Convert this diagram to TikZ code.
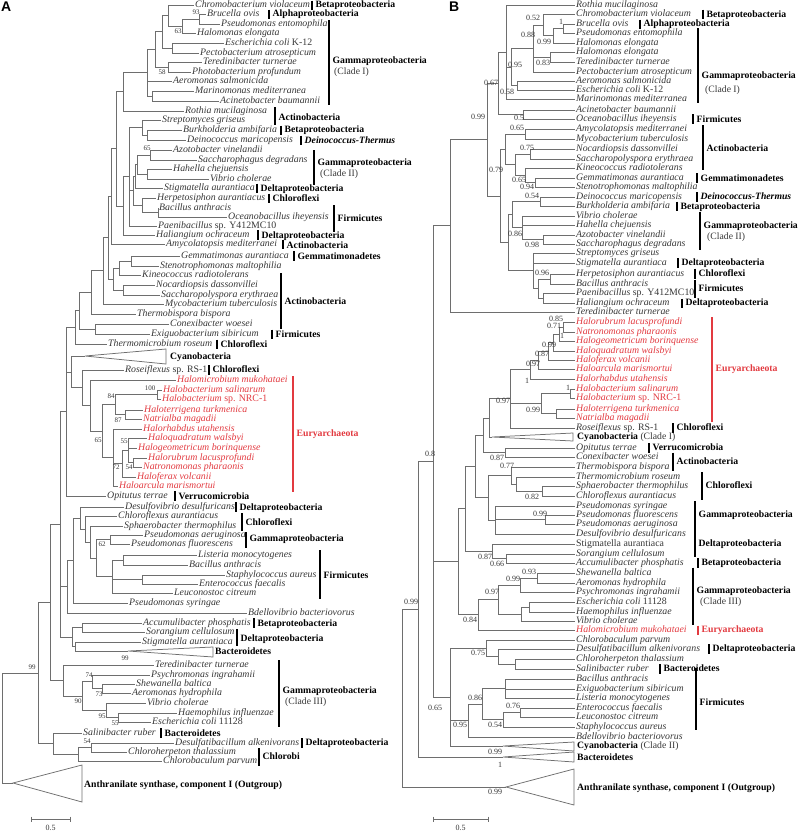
\documentclass[tikz,border=0pt]{standalone}
\usepackage{fontspec}
\setmainfont{Liberation Serif}
\newfontfamily\panelfont{Liberation Sans}
\usetikzlibrary{calc}
\definecolor{linecol}{RGB}{110,110,110}
\definecolor{txtcol}{RGB}{55,55,55}
\definecolor{eur}{RGB}{226,58,64}
\newcounter{auxc}
\tikzset{
 br/.style={draw=linecol, line width=0.75pt},
 leaf/.style={anchor=west, inner xsep=1pt, inner ysep=0pt, text height=6.7pt, text depth=2pt, font=\fontsize{9.85}{11}\selectfont\itshape, text=txtcol},
 bsa/.style={inner sep=0pt, font=\fontsize{7}{8}\selectfont, text=txtcol},
 bsb/.style={inner sep=0pt, font=\fontsize{8}{9}\selectfont, text=txtcol},
 cl/.style={anchor=west, inner sep=0pt, text height=6.7pt, text depth=2pt, font=\fontsize{9.7}{11}\selectfont\bfseries},
 sub/.style={anchor=west, inner sep=0pt, text height=6.7pt, text depth=2pt, font=\fontsize{9.7}{11}\selectfont, text=txtcol},
 barline/.style={line width=1.5pt},
 panel/.style={anchor=north west, inner sep=0pt, font=\panelfont\bfseries\fontsize{14}{14}\selectfont},
}
\newcommand\nd[4]{\path let \p1=(#3), \p2=(#4) in ({#2*1pt},{0.5*(\y1+\y2)}) coordinate (#1);}
\newcommand\kids[2]{\foreach \ch in {#2}{\draw[br] (#1) |- (\ch);}}
\newcommand\lf[4]{\node[leaf] (#1) at (#2,#3) {#4};}
\newcommand\lfr[4]{\node[leaf,text=eur] (#1) at (#2,#3) {#4};}
\newcommand\bsA[3]{\stepcounter{auxc}\node[bsa] (bs\arabic{auxc}) at (#1,#2) {#3};}
\newcommand\bsB[3]{\stepcounter{auxc}\node[bsb] (bs\arabic{auxc}) at (#1,#2) {#3};}
\newcommand\clade[6][black]{\stepcounter{auxc}\draw[barline,draw=#1] (#2,#3) -- (#2,#4);\node[cl,text=#1] (cl\arabic{auxc}) at ({#2+3.5},#5) {#6};}
\newcommand\tri[6]{\coordinate (#1) at (#2,#3); \draw[br] (#1) -- (#4,#5) -- (#4,#6) -- cycle;}

\begin{document}
\begin{tikzpicture}[x=1pt,y=-1pt]
\useasboundingbox (0,0) rectangle (800,831);

% ================= PANEL A =================
\node[panel] (lblA) at (1,2) {A};
\lf{aChr}{194}{5}{Chromobacterium violaceum}
\lf{aBru}{206}{14}{Brucella ovis}
\lf{aPen}{220}{24}{Pseudomonas entomophila}
\lf{aHel}{196}{33}{Halomonas elongata}
\lf{aEck}{224}{43}{Escherichia coli \textup{K-12}}
\lf{aPec}{199}{53}{Pectobacterium atrosepticum}
\lf{aTer}{202}{62}{Teredinibacter turnerae}
\lf{aPho}{191}{72}{Photobacterium profundum}
\lf{aAer}{172}{81}{Aeromonas salmonicida}
\lf{aMar}{194}{91}{Marinomonas mediterranea}
\lf{aAci}{219}{101}{Acinetobacter baumannii}
\lf{aRot}{184}{111}{Rothia mucilaginosa}
\lf{aStr}{161}{120}{Streptomyces griseus}
\lf{aBur}{182}{130}{Burkholderia ambifaria}
\lf{aDei}{186}{140}{Deinococcus maricopensis}
\lf{aAzo}{172}{150}{Azotobacter vinelandii}
\lf{aSac}{197}{160}{Saccharophagus degradans}
\lf{aHah}{172}{169}{Hahella chejuensis}
\lf{aVib}{209}{179}{Vibrio cholerae}
\lf{aSti}{163}{188}{Stigmatella aurantiaca}
\lf{aHer}{156}{198}{Herpetosiphon aurantiacus}
\lf{aBac}{158}{208}{Bacillus anthracis}
\lf{aOce}{227}{217}{Oceanobacillus iheyensis}
\lf{aPae}{157}{226}{Paenibacillus \textup{sp. Y412MC10}}
\lf{aHal}{155}{235}{Haliangium ochraceum}
\lf{aAmy}{165}{244}{Amycolatopsis mediterranei}
\lf{aGem}{180}{256}{Gemmatimonas aurantiaca}
\lf{aSte}{159}{266}{Stenotrophomonas maltophilia}
\lf{aKin}{141}{275}{Kineococcus radiotolerans}
\lf{aNoc}{155}{285}{Nocardiopsis dassonvillei}
\lf{aSpe}{160}{295}{Saccharopolyspora erythraea}
\lf{aMyc}{164}{304}{Mycobacterium tuberculosis}
\lf{aThb}{136}{314}{Thermobispora bispora}
\lf{aCon}{169}{324}{Conexibacter woesei}
\lf{aExi}{150}{334}{Exiguobacterium sibiricum}
\lf{aThm}{107}{344}{Thermomicrobium roseum}
\lf{aRos}{124}{370}{Roseiflexus \textup{sp. RS-1}}
\lfr{aHmi}{176}{380}{Halomicrobium mukohataei}
\lfr{aHsa}{162}{390}{Halobacterium salinarum}
\lfr{aHnr}{161}{399}{Halobacterium \textup{sp. NRC-1}}
\lfr{aHte}{143}{410}{Haloterrigena turkmenica}
\lfr{aNat}{142}{419}{Natrialba magadii}
\lfr{aHrh}{142}{429}{Halorhabdus utahensis}
\lfr{aHqu}{147}{438}{Haloquadratum walsbyi}
\lfr{aHge}{137}{448}{Halogeometricum borinquense}
\lfr{aHru}{147}{458}{Halorubrum lacusprofundi}
\lfr{aNph}{142}{467}{Natronomonas pharaonis}
\lfr{aHfe}{136}{477}{Haloferax volcanii}
\lfr{aHar}{118}{486}{Haloarcula marismortui}
\lf{aOpi}{106}{496}{Opitutus terrae}
\lf{aDes}{124}{507}{Desulfovibrio desulfuricans}
\lf{aChl}{117}{516}{Chloroflexus aurantiacus}
\lf{aSph}{123}{526}{Sphaerobacter thermophilus}
\lf{aPar}{143}{535}{Pseudomonas aeruginosa}
\lf{aPfl}{130}{544}{Pseudomonas fluorescens}
\lf{aLis}{197}{555}{Listeria monocytogenes}
\lf{aBan}{188}{565}{Bacillus anthracis}
\lf{aSta}{225}{575}{Staphylococcus aureus}
\lf{aEnt}{198}{584}{Enterococcus faecalis}
\lf{aLeu}{173}{593}{Leuconostoc citreum}
\lf{aPsy}{128}{603}{Pseudomonas syringae}
\lf{aBde}{247}{613}{Bdellovibrio bacteriovorus}
\lf{aAcc}{142}{623}{Accumulibacter phosphatis}
\lf{aSor}{145}{632}{Sorangium cellulosum}
\lf{aSt2}{141}{642}{Stigmatella aurantiaca}
\lf{aTe2}{154}{665}{Teredinibacter turnerae}
\lf{aPsi}{150}{675}{Psychromonas ingrahamii}
\lf{aShe}{135}{684}{Shewanella baltica}
\lf{aAeh}{131}{693}{Aeromonas hydrophila}
\lf{aVi2}{146}{703}{Vibrio cholerae}
\lf{aHae}{177}{713}{Haemophilus influenzae}
\lf{aEco}{151}{722}{Escherichia coli \textup{11128}}
\lf{aSal}{82}{733}{Salinibacter ruber}
\lf{aDsf}{174}{743}{Desulfatibacillum alkenivorans}
\lf{aCht}{127}{752}{Chloroherpeton thalassium}
\lf{aCbp}{162}{761}{Chlorobaculum parvum}

\tri{cyA}{85}{356}{166}{349}{364}
\tri{bacA}{128}{651}{213}{647}{657}
\tri{outA}{13}{783}{82}{765}{802}

\nd{Abp}{199}{aBru}{aPen}\kids{Abp}{aBru,aPen}
\nd{Abph}{182}{Abp}{aHel}\kids{Abph}{Abp,aHel}
\nd{Ac}{168}{aChr}{Abph}\kids{Ac}{aChr,Abph}
\nd{Aep}{172}{aEck}{aPec}\kids{Aep}{aEck,aPec}
\nd{Ag1}{162}{Ac}{Aep}\kids{Ag1}{Ac,Aep}
\nd{Atp}{168}{aTer}{aPho}\kids{Atp}{aTer,aPho}
\nd{Ag2}{155}{Ag1}{Atp}\kids{Ag2}{Ag1,Atp}
\nd{Ama}{152}{aMar}{aAci}\kids{Ama}{aMar,aAci}
\nd{Ag3}{147}{Ag2}{Ama}\kids{Ag3}{Ag2,aAer,Ama}
\nd{Ar}{123}{Ag3}{aRot}\kids{Ar}{Ag3,aRot}
\nd{Abd}{147}{aBur}{aDei}\kids{Abd}{aBur,aDei}
\nd{Asbd}{142}{aStr}{Abd}\kids{Asbd}{aStr,Abd}
\nd{Aas}{150}{aAzo}{aSac}\kids{Aas}{aAzo,aSac}
\nd{Ahv}{147}{aHah}{aVib}\kids{Ahv}{aHah,aVib}
\nd{Ag2c}{137}{Aas}{Ahv}\kids{Ag2c}{Aas,Ahv}
\nd{Ast}{135}{Ag2c}{aSti}\kids{Ast}{Ag2c,aSti}
\nd{Abo}{158}{aBac}{aOce}\kids{Abo}{aBac,aOce}
\nd{Ahb}{142}{aHer}{Abo}\kids{Ahb}{aHer,Abo}
\nd{Ax1}{133}{Ast}{Ahb}\kids{Ax1}{Ast,Ahb}
\nd{Ax2}{129}{Asbd}{aPae}\kids{Ax2}{Asbd,Ax1,aPae}
\nd{Ax4}{123}{Ax2}{aHal}\kids{Ax4}{Ax2,aHal}
\nd{A116}{116}{Ar}{Ax4}\kids{A116}{Ar,Ax4}
\nd{A111}{111}{A116}{aAmy}\kids{A111}{A116,aAmy}
\nd{Ags}{131}{aGem}{aSte}\kids{Ags}{aGem,aSte}
\nd{Agk}{119}{Ags}{aKin}\kids{Agk}{Ags,aKin}
\nd{Ans}{123}{aNoc}{aSpe}\kids{Ans}{aNoc,aSpe}
\nd{Akn}{113}{Agk}{Ans}\kids{Akn}{Agk,Ans}
\nd{A108}{108}{A111}{Akn}\kids{A108}{A111,Akn}
\nd{Am}{103}{A108}{aMyc}\kids{Am}{A108,aMyc}
\nd{Atb}{91}{Am}{aThb}\kids{Atb}{Am,aThb}
\nd{Ace}{95}{aCon}{aExi}\kids{Ace}{aCon,aExi}
\nd{A79}{79}{Atb}{Ace}\kids{A79}{Atb,Ace}
\nd{A75}{75}{A79}{aThm}\kids{A75}{A79,aThm}
\nd{Ehh}{157}{aHsa}{aHnr}\kids{Ehh}{aHsa,aHnr}
\nd{Etn}{125}{aHte}{aNat}\kids{Etn}{aHte,aNat}
\nd{E84}{115}{Ehh}{Etn}\kids{E84}{Ehh,Etn}
\nd{Ern}{133}{aHru}{aNph}\kids{Ern}{aHru,aNph}
\nd{Eq}{128}{aHqu}{Ern}\kids{Eq}{aHqu,aHge,Ern}
\nd{Ef}{122}{Eq}{aHfe}\kids{Ef}{Eq,aHfe}
\nd{Ea}{113}{aHrh}{aHar}\kids{Ea}{aHrh,Ef,aHar}
\nd{E65}{102}{E84}{Ea}\kids{E65}{E84,Ea}
\nd{E0}{90}{aHmi}{E65}\kids{E0}{aHmi,E65}
\nd{AR}{82}{aRos}{E0}\kids{AR}{aRos,E0}
\nd{A71}{71}{cyA}{AR}\kids{A71}{cyA,AR}
\nd{Ao}{66}{A75}{aOpi}\kids{Ao}{A75,A71,aOpi}
\nd{PaPf}{110}{aPar}{aPfl}\kids{PaPf}{aPar,aPfl}
\nd{LB}{123}{aLis}{aBan}\kids{LB}{aLis,aBan}
\nd{SE}{142}{aSta}{aEnt}\kids{SE}{aSta,aEnt}
\nd{Ff}{112}{LB}{aLeu}\kids{Ff}{LB,SE,aLeu}
\nd{PF}{96}{PaPf}{Ff}\kids{PF}{PaPf,Ff}
\nd{SP}{90}{aSph}{PF}\kids{SP}{aSph,PF}
\nd{CSP}{85}{aChl}{SP}\kids{CSP}{aChl,SP}
\nd{Dd}{80}{aDes}{CSP}\kids{Dd}{aDes,CSP}
\nd{PS}{73}{Dd}{aPsy}\kids{PS}{Dd,aPsy}
\nd{BD}{67}{PS}{aBde}\kids{BD}{PS,aBde}
\nd{AccSor}{82}{aAcc}{aSor}\kids{AccSor}{aAcc,aSor}
\nd{StBa}{75}{aSt2}{bacA}\kids{StBa}{aSt2,bacA}
\nd{ASSB}{72}{AccSor}{StBa}\kids{ASSB}{AccSor,StBa}
\nd{N60}{60}{Ao}{ASSB}\kids{N60}{Ao,BD,ASSB}
\nd{SA}{102}{aShe}{aAeh}\kids{SA}{aShe,aAeh}
\nd{PSA}{92}{aPsi}{SA}\kids{PSA}{aPsi,SA}
\nd{HE}{118}{aHae}{aEco}\kids{HE}{aHae,aEco}
\nd{VHE}{106}{aVi2}{HE}\kids{VHE}{aVi2,HE}
\nd{G3b}{82}{PSA}{VHE}\kids{G3b}{PSA,VHE}
\nd{G3}{63}{aTe2}{G3b}\kids{G3}{aTe2,G3b}
\nd{N50}{50}{N60}{G3}\kids{N50}{N60,G3}
\nd{DCh}{91}{aDsf}{aCht}\kids{DCh}{aDsf,aCht}
\nd{DCC}{78}{DCh}{aCbp}\kids{DCC}{DCh,aCbp}
\nd{SalChl}{53}{aSal}{DCC}\kids{SalChl}{aSal,DCC}
\nd{N99}{38}{N50}{SalChl}\kids{N99}{N50,SalChl}
\nd{rootA}{2}{N99}{outA}\kids{rootA}{N99,outA}

\bsA{196}{12}{93}
\bsA{178}{31}{63}
\bsA{162}{72}{58}
\bsA{147}{148}{65}
\bsA{150}{388}{100}
\bsA{111}{396}{84}
\bsA{118}{420}{87}
\bsA{98}{440}{65}
\bsA{124}{441}{55}
\bsA{116}{467}{72}
\bsA{129}{467}{54}
\bsA{102}{544}{62}
\bsA{125}{658}{99}
\bsA{32}{667}{99}
\bsA{89}{675}{74}
\bsA{99}{694}{73}
\bsA{78}{701}{90}
\bsA{102}{716}{95}
\bsA{115}{723}{55}
\bsA{87}{741}{54}

\clade{312}{0.5}{9.5}{5}{Betaproteobacteria}
\clade{269}{9.5}{19}{14}{Alphaproteobacteria}
\clade{329}{20}{105}{61}{Gammaproteobacteria}
\node[sub] (subA1) at (334,72) {(Clade I)};
\clade{275}{107}{125}{118}{Actinobacteria}
\clade{281}{125.5}{135}{130}{Betaproteobacteria}
\clade{301}{135.5}{145}{141}{\textit{Deinococcus-Thermus}}
\clade{314}{150}{185}{163}{Gammaproteobacteria}
\node[sub] (subA2) at (320,174) {(Clade II)};
\clade{257}{183.5}{193}{189}{Deltaproteobacteria}
\clade{269}{193.5}{203}{199}{Chloroflexi}
\clade{334}{205}{232}{219}{Firmicutes}
\clade{258}{230}{240}{236}{Deltaproteobacteria}
\clade{283}{239.5}{249}{246}{Actinobacteria}
\clade{294}{251}{261}{257}{Gemmatimonadetes}
\clade{281}{273}{329}{302}{Actinobacteria}
\clade{272}{329.5}{339}{335}{Firmicutes}
\clade{217}{339.5}{349}{345}{Chloroflexi}
\node[cl] (tcyA) at (170,357) {Cyanobacteria};
\clade{209}{365}{375}{370}{Chloroflexi}
\clade[eur]{293}{376}{492}{434}{Euryarchaeota}
\clade{175}{491}{501}{497}{Verrucomicrobia}
\clade{236}{502}{512}{508}{Deltaproteobacteria}
\clade{242}{513}{531}{523}{Chloroflexi}
\clade{246}{532}{548}{539}{Gammaproteobacteria}
\clade{320}{550}{599}{576}{Firmicutes}
\clade{254}{618}{628}{624}{Betaproteobacteria}
\clade{237}{629}{646}{639}{Deltaproteobacteria}
\node[cl] (tbacA) at (215,652) {Bacteroidetes};
\clade{279}{660}{727}{691}{Gammaproteobacteria}
\node[sub] (subA3) at (285,702) {(Clade III)};
\clade{161}{728}{738}{734}{Bacteroidetes}
\clade{302}{738}{748}{743}{Deltaproteobacteria}
\clade{259}{748}{766}{757}{Chlorobi}
\node[cl] (toutA) at (84,785) {Anthranilate synthase, component I (Outgroup)};

\coordinate (sa1) at (31,819); \coordinate (sa2) at (70,819);
\draw[br] (sa1) -- (sa2);
\draw[br] (31,816.5) -- (31,821.5);
\draw[br] (70,816.5) -- (70,821.5);
\node[bsb] (scA) at (50.5,828) {0.5};

% ================= PANEL B =================
\node[panel] (lblB) at (449,2) {B};
\lf{bRot}{575}{5}{Rothia mucilaginosa}
\lf{bChr}{575}{14}{Chromobacterium violaceum}
\lf{bBru}{575}{24}{Brucella ovis}
\lf{bPen}{575}{33}{Pseudomonas entomophila}
\lf{bHe1}{575}{43}{Halomonas elongata}
\lf{bHe2}{575}{52}{Halomonas elongata}
\lf{bTer}{575}{62}{Teredinibacter turnerae}
\lf{bPec}{575}{72}{Pectobacterium atrosepticum}
\lf{bAer}{575}{81}{Aeromonas salmonicida}
\lf{bEck}{575}{90}{Escherichia coli \textup{K-12}}
\lf{bMar}{575}{99}{Marinomonas mediterranea}
\lf{bAci}{575}{110}{Acinetobacter baumannii}
\lf{bOce}{575}{119}{Oceanobacillus iheyensis}
\lf{bAmy}{575}{129}{Amycolatopsis mediterranei}
\lf{bMyc}{575}{139}{Mycobacterium tuberculosis}
\lf{bNoc}{575}{149}{Nocardiopsis dassonvillei}
\lf{bSpe}{575}{159}{Saccharopolyspora erythraea}
\lf{bKin}{575}{168}{Kineococcus radiotolerans}
\lf{bGem}{575}{178}{Gemmatimonas aurantiaca}
\lf{bSte}{575}{187}{Stenotrophomonas maltophilia}
\lf{bDei}{575}{197}{Deinococcus maricopensis}
\lf{bBur}{575}{206}{Burkholderia ambifaria}
\lf{bVib}{575}{216}{Vibrio cholerae}
\lf{bHah}{575}{225}{Hahella chejuensis}
\lf{bAzo}{575}{235}{Azotobacter vinelandii}
\lf{bSac}{575}{244}{Saccharophagus degradans}
\lf{bStr}{575}{253}{Streptomyces griseus}
\lf{bSti}{575}{263}{Stigmatella aurantiaca}
\lf{bHer}{575}{274}{Herpetosiphon aurantiacus}
\lf{bBac}{575}{284}{Bacillus anthracis}
\lf{bPae}{575}{293}{Paenibacillus \textup{sp. Y412MC10}}
\lf{bHal}{575}{303}{Haliangium ochraceum}
\lf{bTe2}{575}{312}{Teredinibacter turnerae}
\lfr{bHru}{575}{322}{Halorubrum lacusprofundi}
\lfr{bNph}{575}{332}{Natronomonas pharaonis}
\lfr{bHge}{575}{341}{Halogeometricum borinquense}
\lfr{bHqu}{575}{351}{Haloquadratum walsbyi}
\lfr{bHfe}{575}{360}{Haloferax volcanii}
\lfr{bHar}{575}{369}{Haloarcula marismortui}
\lfr{bHrh}{575}{379}{Halorhabdus utahensis}
\lfr{bHsa}{575}{389}{Halobacterium salinarum}
\lfr{bHnr}{575}{398}{Halobacterium \textup{sp. NRC-1}}
\lfr{bHte}{575}{409}{Haloterrigena turkmenica}
\lfr{bNat}{575}{418}{Natrialba magadii}
\lf{bRos}{575}{428}{Roseiflexus \textup{sp. RS-1}}
\lf{bOpi}{575}{448}{Opitutus terrae}
\lf{bCon}{575}{457}{Conexibacter woesei}
\lf{bThb}{575}{467}{Thermobispora bispora}
\lf{bThm}{575}{477}{Thermomicrobium roseum}
\lf{bSph}{575}{486}{Sphaerobacter thermophilus}
\lf{bChl}{575}{496}{Chloroflexus aurantiacus}
\lf{bPsy}{575}{506}{Pseudomonas syringae}
\lf{bPfl}{575}{515}{Pseudomonas fluorescens}
\lf{bPar}{575}{524}{Pseudomonas aeruginosa}
\lf{bDes}{575}{534}{Desulfovibrio desulfuricans}
\lf{bSt2}{575}{544}{\textup{Stigmatella aurantiaca}}
\lf{bSor}{575}{554}{Sorangium cellulosum}
\lf{bAcc}{575}{563}{Accumulibacter phosphatis}
\lf{bShe}{575}{573}{Shewanella baltica}
\lf{bAeh}{575}{583}{Aeromonas hydrophila}
\lf{bPsi}{575}{592}{Psychromonas ingrahamii}
\lf{bEco}{575}{602}{Escherichia coli \textup{11128}}
\lf{bHae}{575}{612}{Haemophilus influenzae}
\lf{bVi2}{575}{621}{Vibrio cholerae}
\lfr{bHmi}{575}{630}{Halomicrobium mukohataei}
\lf{bCbp}{575}{640}{Chlorobaculum parvum}
\lf{bDsf}{575}{649}{Desulfatibacillum alkenivorans}
\lf{bCht}{575}{659}{Chloroherpeton thalassium}
\lf{bSal}{575}{669}{Salinibacter ruber}
\lf{bBa2}{575}{679}{Bacillus anthracis}
\lf{bExi}{575}{689}{Exiguobacterium sibiricum}
\lf{bLis}{575}{698}{Listeria monocytogenes}
\lf{bEnt}{575}{708}{Enterococcus faecalis}
\lf{bLeu}{575}{717}{Leuconostoc citreum}
\lf{bSta}{575}{727}{Staphylococcus aureus}
\lf{bBde}{575}{737}{Bdellovibrio bacteriovorus}

\tri{cyI}{492}{437}{573}{433}{441}
\tri{cyII}{503}{746}{574}{742}{751}
\tri{bacB}{503}{757}{574}{752}{762}
\tri{outB}{506}{787}{574}{769}{805}

\nd{Bbp}{563}{bBru}{bPen}\kids{Bbp}{bBru,bPen}
\nd{Bbph}{553}{Bbp}{bHe1}\kids{Bbph}{Bbp,bHe1}
\nd{Bcb}{543}{bChr}{Bbph}\kids{Bcb}{bChr,Bbph}
\nd{Bht}{550}{bHe2}{bTer}\kids{Bht}{bHe2,bTer}
\nd{B88}{533}{Bcb}{bPec}\kids{B88}{Bcb,Bht,bPec}
\nd{Bae}{517}{bAer}{bEck}\kids{Bae}{bAer,bEck}
\nd{B95}{511}{B88}{Bae}\kids{B95}{B88,Bae}
\nd{Br}{506}{bRot}{bMar}\kids{Br}{bRot,B95,bMar}
\nd{Bao}{523}{bAci}{bOce}\kids{Bao}{bAci,bOce}
\nd{B67}{498}{Br}{Bao}\kids{B67}{Br,Bao}
\nd{B65a}{525}{bAmy}{bMyc}\kids{B65a}{bAmy,bMyc}
\nd{B75}{530}{bNoc}{bSpe}\kids{B75}{bNoc,bSpe}
\nd{Bgs}{535}{bGem}{bSte}\kids{Bgs}{bGem,bSte}
\nd{Bkg}{525}{bKin}{Bgs}\kids{Bkg}{bKin,Bgs}
\nd{Bnk}{515}{B75}{Bkg}\kids{Bnk}{B75,Bkg}
\nd{Bact}{505}{B65a}{Bnk}\kids{Bact}{B65a,Bnk}
\nd{Bdb}{540}{bDei}{bBur}\kids{Bdb}{bDei,bBur}
\nd{Bha}{543}{bAzo}{bSac}\kids{Bha}{bAzo,bSac}
\nd{B86}{522}{bVib}{Bha}\kids{B86}{bVib,bHah,Bha}
\nd{Bdbv}{512}{Bdb}{B86}\kids{Bdbv}{Bdb,B86}
\nd{Bhb}{550}{bHer}{bBac}\kids{Bhb}{bHer,bBac}
\nd{Bph}{543}{bPae}{bHal}\kids{Bph}{bPae,bHal}
\nd{Bhbph}{538}{Bhb}{Bph}\kids{Bhbph}{Bhb,Bph}
\nd{Bs}{533}{bStr}{Bhbph}\kids{Bs}{bStr,bSti,Bhbph}
\nd{Bx}{508}{Bdbv}{Bs}\kids{Bx}{Bdbv,Bs}
\nd{B79}{500}{Bact}{Bx}\kids{B79}{Bact,Bx}
\nd{B99}{487}{B67}{B79}\kids{B99}{B67,B79}
\nd{Bt}{450}{B99}{bTe2}\kids{Bt}{B99,bTe2}
\nd{Ea1}{563}{bHru}{bNph}\kids{Ea1}{bHru,bNph}
\nd{Ea2}{559}{Ea1}{bHge}\kids{Ea2}{Ea1,bHge}
\nd{Ea3}{553}{Ea2}{bHqu}\kids{Ea3}{Ea2,bHqu}
\nd{Ea4}{548}{Ea3}{bHfe}\kids{Ea4}{Ea3,bHfe}
\nd{Ea5}{538}{Ea4}{bHar}\kids{Ea5}{Ea4,bHar}
\nd{Ea6}{530}{Ea5}{bHrh}\kids{Ea6}{Ea5,bHrh}
\nd{Ea7}{570}{bHsa}{bHnr}\kids{Ea7}{bHsa,bHnr}
\nd{Ea8}{556}{bHte}{bNat}\kids{Ea8}{bHte,bNat}
\nd{Ea9}{541}{Ea7}{Ea8}\kids{Ea9}{Ea7,Ea8}
\nd{Ea10}{510}{Ea6}{bRos}\kids{Ea10}{Ea6,Ea9,bRos}
\nd{Bcy}{489}{Ea10}{cyI}\kids{Bcy}{Ea10,cyI}
\nd{Boc}{505}{bOpi}{bCon}\kids{Boc}{bOpi,bCon}
\nd{Bcyo}{483}{Bcy}{Boc}\kids{Bcyo}{Bcy,Boc}
\nd{Bsc}{542}{bSph}{bChl}\kids{Bsc}{bSph,bChl}
\nd{Btsc}{516}{bThm}{Bsc}\kids{Btsc}{bThm,Bsc}
\nd{B77}{511}{bThb}{Btsc}\kids{B77}{bThb,Btsc}
\nd{Bpf}{545}{bPfl}{bPar}\kids{Bpf}{bPfl,bPar}
\nd{Bpsd}{495}{bPsy}{bDes}\kids{Bpsd}{bPsy,Bpf,bDes}
\nd{Bcp}{488}{B77}{Bpsd}\kids{Bcp}{B77,Bpsd}
\nd{Bm1}{475}{Bcyo}{Bcp}\kids{Bm1}{Bcyo,Bcp}
\nd{Bsa2}{506}{bSor}{bAcc}\kids{Bsa2}{bSor,bAcc}
\nd{B87}{492}{bSt2}{Bsa2}\kids{B87}{bSt2,Bsa2}
\nd{Bm2}{465}{Bm1}{B87}\kids{Bm2}{Bm1,B87}
\nd{Bsa}{537}{bShe}{bAeh}\kids{Bsa}{bShe,bAeh}
\nd{B99c}{520}{Bsa}{bPsi}\kids{B99c}{Bsa,bPsi}
\nd{Beh}{529}{bEco}{bHae}\kids{Beh}{bEco,bHae}
\nd{Behv}{521}{Beh}{bVi2}\kids{Behv}{Beh,bVi2}
\nd{B97}{498}{B99c}{Behv}\kids{B97}{B99c,Behv}
\nd{B84}{478}{B97}{bHmi}\kids{B84}{B97,bHmi}
\nd{Bm3}{458}{Bm2}{B84}\kids{Bm3}{Bm2,B84}
\nd{Bcs}{515}{bCht}{bSal}\kids{Bcs}{bCht,bSal}
\nd{Bdcs}{498}{bDsf}{Bcs}\kids{Bdcs}{bDsf,Bcs}
\nd{Bcd}{486}{bCbp}{Bdcs}\kids{Bcd}{bCbp,Bdcs}
\nd{Bbel}{505}{bBa2}{bLis}\kids{Bbel}{bBa2,bExi,bLis}
\nd{Bel}{520}{bEnt}{bLeu}\kids{Bel}{bEnt,bLeu}
\nd{B54}{503}{Bel}{bSta}\kids{B54}{Bel,bSta}
\nd{B86f}{482}{Bbel}{B54}\kids{B86f}{Bbel,B54}
\nd{B95b}{468}{B86f}{bBde}\kids{B95b}{B86f,bBde}
\nd{Bc2}{450}{Bcd}{cyII}\kids{Bc2}{Bcd,B95b,cyII}
\nd{B8}{433}{Bt}{Bc2}\kids{B8}{Bt,Bm3,Bc2}
\nd{B99r}{418}{B8}{bacB}\kids{B99r}{B8,bacB}
\nd{rootB}{402}{B99r}{outB}\kids{rootB}{B99r,outB}

\bsB{561}{22}{1}
\bsB{533}{18}{0.52}
\bsB{528}{35}{0.88}
\bsB{544}{42}{0.99}
\bsB{543}{63}{0.83}
\bsB{515}{65}{0.95}
\bsB{491}{83}{0.67}
\bsB{507}{92}{0.58}
\bsB{478}{117}{0.99}
\bsB{519}{118}{0.5}
\bsB{517}{128}{0.65}
\bsB{527}{148}{0.75}
\bsB{496}{170}{0.79}
\bsB{519}{180}{0.65}
\bsB{527}{187}{0.94}
\bsB{532}{196}{0.54}
\bsB{515}{234}{0.86}
\bsB{532}{245}{0.98}
\bsB{542}{273}{0.96}
\bsB{556}{319}{0.85}
\bsB{554}{326}{0.71}
\bsB{562}{336}{1}
\bsB{549}{345}{0.99}
\bsB{542}{354}{0.87}
\bsB{533}{364}{0.97}
\bsB{527}{381}{1}
\bsB{568}{388}{1}
\bsB{503}{401}{0.97}
\bsB{533}{410}{0.99}
\bsB{430}{454}{0.8}
\bsB{497}{458}{0.87}
\bsB{507}{466}{0.77}
\bsB{532}{497}{0.82}
\bsB{540}{514}{0.99}
\bsB{485}{557}{0.87}
\bsB{497}{564}{0.66}
\bsB{529}{572}{0.93}
\bsB{513}{579}{0.99}
\bsB{492}{592}{0.97}
\bsB{470}{620}{0.84}
\bsB{478}{653}{0.75}
\bsB{411}{602}{0.99}
\bsB{475}{698}{0.86}
\bsB{513}{706}{0.76}
\bsB{435}{708}{0.65}
\bsB{460}{725}{0.95}
\bsB{495}{725}{0.54}
\bsB{495}{752}{0.99}
\bsB{500}{765}{1}
\bsB{495}{792}{0.99}

\clade{703}{9.5}{19}{15}{Betaproteobacteria}
\clade{640}{19.5}{29}{24}{Alphaproteobacteria}
\clade{698}{28}{103}{76}{Gammaproteobacteria}
\node[sub] (subB1) at (705,90) {(Clade I)};
\clade{693}{114}{124}{120}{Firmicutes}
\clade{703}{125}{170}{149}{Actinobacteria}
\clade{697}{173}{183}{179}{Gemmatimonadetes}
\clade{697}{192}{202}{197}{\textit{Deinococcus-Thermus}}
\clade{677}{201.5}{211}{207}{Betaproteobacteria}
\clade{700}{211.5}{250}{226}{Gammaproteobacteria}
\node[sub] (subB2) at (707,237) {(Clade II)};
\clade{678}{258}{268}{263}{Deltaproteobacteria}
\clade{695}{268.5}{279}{274}{Chloroflexi}
\clade{695}{279.5}{298}{289}{Firmicutes}
\clade{682}{298.5}{308}{303}{Deltaproteobacteria}
\clade[eur]{712}{317}{422}{369}{Euryarchaeota}
\clade{673}{423}{433}{428}{Chloroflexi}
\node[cl] (tcy1) at (577,437) {Cyanobacteria \textnormal{\color{txtcol}(Clade I)}};
\clade{649}{443}{453}{448}{Verrucomicrobia}
\clade{673}{452.5}{471}{462}{Actinobacteria}
\clade{702}{472}{500}{486}{Chloroflexi}
\clade{695}{501}{529.5}{515}{Gammaproteobacteria}
\clade{695}{530}{557}{544}{Deltaproteobacteria}
\clade{698}{558}{568}{563}{Betaproteobacteria}
\clade{693}{567.5}{625}{591}{Gammaproteobacteria}
\node[sub] (subB3) at (700,602) {(Clade III)};
\clade[eur]{698}{625.5}{635}{630}{Euryarchaeota}
\clade{709}{644}{654}{649}{Deltaproteobacteria}
\clade{660}{664}{674}{669}{Bacteroidetes}
\clade{696}{668}{730}{703}{Firmicutes}
\node[cl] (tcy2) at (577,746) {Cyanobacteria \textnormal{\color{txtcol}(Clade II)}};
\node[cl] (tbacB) at (577,758) {Bacteroidetes};
\node[cl] (toutB) at (577,788) {Anthranilate synthase, component I (Outgroup)};

\coordinate (sb1) at (433,819); \coordinate (sb2) at (488,819);
\draw[br] (sb1) -- (sb2);
\draw[br] (433,816.5) -- (433,821.5);
\draw[br] (488,816.5) -- (488,821.5);
\node[bsb] (scB) at (460.5,828) {0.5};
\end{tikzpicture}
\end{document}
